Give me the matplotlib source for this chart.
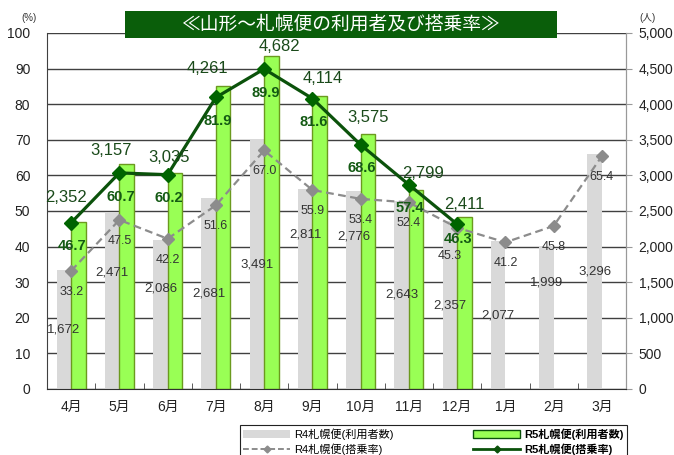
import matplotlib
matplotlib.use('Agg')
import matplotlib.pyplot as plt
import numpy as np
from matplotlib.patches import Rectangle, Patch
from matplotlib.lines import Line2D
from matplotlib.ticker import FuncFormatter, MultipleLocator

plt.rcParams['font.family'] = ['Liberation Sans', 'Noto Sans CJK JP', 'DejaVu Sans']

##### Data #####
months = ['4月', '5月', '6月', '7月', '8月', '9月', '10月', '11月', '12月', '1月', '2月', '3月']
r4_users = [1672, 2471, 2086, 2681, 3491, 2811, 2776, 2643, 2357, 2077, 1999, 3296]
r4_rate = [33.2, 47.5, 42.2, 51.6, 67.0, 55.9, 53.4, 52.4, 45.3, 41.2, 45.8, 65.4]
r5_users = [2352, 3157, 3035, 4261, 4682, 4114, 3575, 2799, 2411]
r5_rate = [46.7, 60.7, 60.2, 81.9, 89.9, 81.6, 68.6, 57.4, 46.3]

# label placement (layout only)
r4_label_frac = [0.5, 0.66, 0.68, 0.5, 0.5, 0.77, 0.77, 0.5, 0.5, 0.5, 0.75, 0.5]
r4_rate_off = [(0, -15)] * 8 + [(-5, -20)] + [(0, -15)] * 3
r5_rate_off = [(1, -17)] * 8 + [(1, -11)]
r5_user_off = [(-9, 17), (-11, 10), (-4, 11), (-11, 12), (6, 6.5), (2, 13), (0, 12), (5, 12), (0, 9)]

grey_bar = '#d9d9d9'
green_bar = '#99ff55'
green_edge = '#6b9a1f'
dark_green = '#0b520b'
grey_line = '#8c8c8c'

W, H = 674, 455
fig = plt.figure(figsize=(W / 100, H / 100), dpi=100)
ax = fig.add_axes([47 / W, 1 - 389 / H, (626 - 47) / W, (389 - 33) / H])
ax2 = ax.twinx()

x4 = np.arange(len(r4_users))
x5 = np.arange(len(r5_users))
bw = 0.3

# bars on the people axis (right)
ax2.bar(x4 - bw / 2, r4_users, width=bw, color=grey_bar, zorder=2)
ax2.bar(x5 + bw / 2, r5_users, width=bw, color=green_bar, edgecolor=green_edge, linewidth=1, zorder=2)
ax2.set_ylim(0, 5000)
ax2.yaxis.set_major_locator(MultipleLocator(500))
ax2.yaxis.set_major_formatter(FuncFormatter(lambda v, p: f'{int(v):,}'))
ax2.grid(axis='y', color='#404040', linewidth=1.0, zorder=0)
ax2.set_axisbelow(True)
ax2.tick_params(axis='y', labelsize=10, length=4, color='#999999', pad=5, labelcolor='#222222')

# rate lines on the % axis (left), drawn above the bars
ax.set_zorder(ax2.get_zorder() + 1)
ax.patch.set_visible(False)
ax.plot(x4, r4_rate, color=grey_line, linestyle=(0, (3.5, 2)), linewidth=1.6,
        marker='D', markersize=6, markerfacecolor=grey_line, markeredgecolor=grey_line)
ax.plot(x5, r5_rate, color=dark_green, linewidth=2.3,
        marker='D', markersize=7, markerfacecolor='#006400', markeredgecolor='#006400')
ax.set_ylim(0, 100)
ax.set_xlim(-0.5, len(months) - 0.5)
ax.yaxis.set_major_locator(MultipleLocator(10))
ax.tick_params(axis='y', labelsize=10, length=0, pad=12, labelcolor='#222222')
ax.set_xticks(x4)
ax.set_xticklabels(months, fontsize=10, color='#222222')
ax.tick_params(axis='x', length=0, pad=8)
ax.set_xticks(np.arange(len(months) + 1) - 0.5, minor=True)
ax.tick_params(axis='x', which='minor', direction='in', length=4, color='#404040')

for a in (ax, ax2):
    a.spines['top'].set_visible(False)
ax.spines['left'].set_color('#404040')
ax.spines['bottom'].set_color('#303030')
ax.spines['right'].set_color('#999999')
ax2.spines['right'].set_color('#999999')
ax2.spines['left'].set_visible(False)
ax2.spines['bottom'].set_visible(False)

# data labels
for i, v in enumerate(r4_users):
    ax.annotate(f'{v:,}', (i - bw / 2, v * r4_label_frac[i]), xycoords=ax2.transData,
                ha='center', va='center', fontsize=9.5, color='#333333')
for i, v in enumerate(r4_rate):
    ax.annotate(f'{v:.1f}', (i, v), textcoords='offset points', xytext=r4_rate_off[i],
                ha='center', va='center', fontsize=9, color='#333333')
for i, v in enumerate(r5_users):
    ax.annotate(f'{v:,}', (i + bw / 2, v), xycoords=ax2.transData, textcoords='offset points',
                xytext=r5_user_off[i], ha='center', va='center', fontsize=12, color='#1a4a1a')
for i, v in enumerate(r5_rate):
    ax.annotate(f'{v:.1f}', (i, v), textcoords='offset points', xytext=r5_rate_off[i],
                ha='center', va='center', fontsize=10.5, fontweight='bold', color='#145a14')

# unit labels
fig.text(29 / W, 1 - 18 / H, '(%)', fontsize=7, ha='center', va='center', color='#333333')
fig.text(648 / W, 1 - 18 / H, '(人)', fontsize=7, ha='center', va='center', color='#333333')

# title box
fig.patches.append(Rectangle((125 / W, 1 - 38 / H), (557 - 125) / W, 27 / H,
                             transform=fig.transFigure, facecolor='#0a5e0a', edgecolor='none', zorder=5))
fig.text(341 / W, 1 - 24.5 / H, '≪山形～札幌便の利用者及び搭乗率≫', fontsize=13.5, color='white',
         ha='center', va='center', zorder=6, family=['Noto Sans CJK JP', 'DejaVu Sans'])

# legend
handles = [
    Patch(facecolor=grey_bar, edgecolor='none'),
    Line2D([], [], color=grey_line, linestyle=(0, (3, 1.5)), linewidth=1.4, marker='D', markersize=3.5),
    Patch(facecolor=green_bar, edgecolor=dark_green, linewidth=1),
    Line2D([], [], color=dark_green, linewidth=2, marker='D', markersize=3.5),
]
labels = ['R4札幌便(利用者数)', 'R4札幌便(搭乗率)', 'R5札幌便(利用者数)', 'R5札幌便(搭乗率)']
leg = fig.legend(handles, labels, loc='upper left', ncol=2, mode='expand',
                 bbox_to_anchor=(240 / W, 0, (627 - 240) / W, 1 - 425 / H),
                 fontsize=8, handlelength=4.2, handleheight=0.6, handletextpad=0.4,
                 borderaxespad=0, borderpad=0.3, labelspacing=0.3,
                 frameon=True, fancybox=False, framealpha=1, edgecolor='#222222')
leg.get_frame().set_linewidth(0.8)
for t in leg.get_texts()[2:]:
    t.set_fontweight('bold')

fig.savefig('out.png', dpi=100)
